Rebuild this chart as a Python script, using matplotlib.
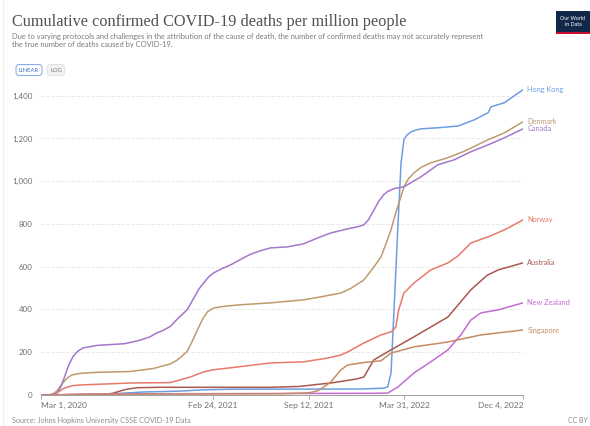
import pandas as pd
import matplotlib.pyplot as plt
from matplotlib.patches import Rectangle
from matplotlib.ticker import FuncFormatter

# Data (deaths per million)
hk_dates = ['2020-03-01', '2020-07-01', '2020-08-15', '2020-10-01', '2020-12-15', '2021-02-01',
            '2021-04-01', '2021-12-31', '2022-02-15', '2022-02-24', '2022-03-03', '2022-03-09',
            '2022-03-17', '2022-03-24', '2022-03-30', '2022-04-05', '2022-04-14', '2022-04-25',
            '2022-05-05', '2022-06-09', '2022-07-21', '2022-08-24', '2022-09-22', '2022-09-28',
            '2022-10-26', '2022-12-04']
hk_vals = [0, 1, 8, 14, 18, 24, 27, 28, 32, 37, 103, 384, 772, 1086, 1194, 1215, 1231, 1240,
           1245, 1250, 1258, 1287, 1320, 1348, 1367, 1428]

dk_dates = ['2020-03-01', '2020-03-20', '2020-03-28', '2020-04-04', '2020-04-15', '2020-04-25',
            '2020-05-05', '2020-05-25', '2020-06-26', '2020-09-04', '2020-10-22', '2020-11-26',
            '2020-12-10', '2020-12-20', '2021-01-01', '2021-01-12', '2021-01-22', '2021-02-02',
            '2021-02-12', '2021-02-25', '2021-03-20', '2021-04-16', '2021-06-24', '2021-09-01',
            '2021-10-07', '2021-11-18', '2021-12-10', '2022-01-05', '2022-01-25', '2022-02-10',
            '2022-02-20', '2022-03-03', '2022-03-10', '2022-03-17', '2022-03-24', '2022-03-30',
            '2022-04-08', '2022-04-20', '2022-05-05', '2022-05-25', '2022-06-30', '2022-08-03',
            '2022-09-22', '2022-10-26', '2022-12-04']
dk_vals = [0, 0, 8, 20, 55, 80, 94, 102, 106, 110, 124, 145, 162, 180, 205, 255, 304, 355, 389,
           407, 415, 421, 431, 445, 459, 477, 500, 538, 595, 646, 705, 772, 830, 880, 930, 974,
           1010, 1039, 1065, 1086, 1110, 1140, 1194, 1226, 1278]

ca_dates = ['2020-03-01', '2020-03-25', '2020-04-03', '2020-04-12', '2020-04-20', '2020-04-28',
            '2020-05-07', '2020-05-17', '2020-05-28', '2020-06-26', '2020-08-23', '2020-09-22',
            '2020-10-15', '2020-10-29', '2020-11-12', '2020-11-26', '2020-12-11', '2020-12-22',
            '2021-01-01', '2021-01-15', '2021-01-25', '2021-02-04', '2021-02-15', '2021-02-25',
            '2021-03-15', '2021-04-01', '2021-04-28', '2021-05-15', '2021-06-03', '2021-06-24',
            '2021-07-30', '2021-09-01', '2021-10-01', '2021-10-28', '2021-12-02', '2021-12-25',
            '2022-01-05', '2022-01-15', '2022-01-25', '2022-02-05', '2022-02-15', '2022-02-24',
            '2022-03-09', '2022-03-30', '2022-05-05', '2022-06-09', '2022-07-13', '2022-08-17',
            '2022-09-22', '2022-10-26', '2022-12-04']
ca_vals = [0, 2, 8, 40, 90, 140, 180, 205, 220, 232, 240, 255, 272, 290, 303, 320, 355, 378,
           400, 455, 495, 524, 553, 571, 592, 608, 641, 660, 675, 688, 693, 707, 735, 758, 777,
           788, 796, 820, 860, 905, 935, 952, 965, 974, 1021, 1077, 1100, 1138, 1170, 1203, 1245]

no_dates = ['2020-03-01', '2020-03-30', '2020-04-04', '2020-04-15', '2020-04-25', '2020-05-08',
            '2020-05-22', '2020-09-04', '2020-11-26', '2020-12-16', '2021-01-07', '2021-02-04',
            '2021-02-24', '2021-04-16', '2021-06-24', '2021-09-01', '2021-10-22', '2021-11-18',
            '2021-12-02', '2022-01-05', '2022-02-10', '2022-03-03', '2022-03-13', '2022-03-19',
            '2022-03-30', '2022-04-20', '2022-05-25', '2022-06-30', '2022-07-21', '2022-08-17',
            '2022-09-22', '2022-10-26', '2022-12-04']
no_vals = [0, 0, 10, 28, 37, 44, 47, 56, 58, 70, 84, 108, 118, 131, 150, 155, 173, 187, 201,
           243, 281, 295, 318, 398, 477, 524, 585, 618, 650, 711, 740, 772, 819]

au_dates = ['2020-03-01', '2020-07-04', '2020-07-29', '2020-08-23', '2020-09-17', '2020-11-06',
            '2021-06-24', '2021-08-23', '2021-10-02', '2021-10-28', '2021-12-21', '2022-01-05',
            '2022-01-26', '2022-03-03', '2022-04-20', '2022-06-30', '2022-08-17', '2022-09-20',
            '2022-10-13', '2022-12-04']
au_vals = [0, 1, 8, 25, 34, 36, 36, 40, 50, 56, 75, 84, 164, 211, 272, 365, 492, 560, 585, 618]

nz_dates = ['2020-03-01', '2020-03-30', '2020-04-30', '2020-06-09', '2022-01-26', '2022-02-24',
            '2022-03-17', '2022-04-20', '2022-05-25', '2022-06-30', '2022-07-27', '2022-08-17',
            '2022-09-07', '2022-10-13', '2022-12-04']
nz_vals = [0, 0, 3, 5, 8, 9, 37, 103, 155, 211, 281, 351, 384, 398, 431]

sg_dates = ['2020-03-01', '2020-03-30', '2020-04-30', '2020-06-29', '2021-07-14', '2021-09-12',
            '2021-10-01', '2021-10-12', '2021-10-28', '2021-11-18', '2021-12-02', '2022-01-05',
            '2022-02-10', '2022-03-03', '2022-04-20', '2022-06-30', '2022-09-07', '2022-12-04']
sg_vals = [0, 0, 2, 4, 6, 10, 20, 35, 61, 117, 140, 152, 160, 196, 225, 248, 281, 304]

countries = ['Hong Kong', 'Denmark', 'Canada', 'Norway', 'Australia', 'New Zealand', 'Singapore']
colors = ['#6f9de3', '#bf9a6e', '#a277cc', '#e8796a', '#a9584f', '#c46bd3', '#c68b63']
series = [(hk_dates, hk_vals), (dk_dates, dk_vals), (ca_dates, ca_vals), (no_dates, no_vals),
          (au_dates, au_vals), (nz_dates, nz_vals), (sg_dates, sg_vals)]

y_ticks = [0, 200, 400, 600, 800, 1000, 1200, 1400]
x_ticks = ['2020-03-01', '2021-02-24', '2021-09-12', '2022-03-31', '2022-12-04']
x_labels = ['Mar 1, 2020', 'Feb 24, 2021', 'Sep 12, 2021', 'Mar 31, 2022', 'Dec 4, 2022']

plt.rcParams['font.family'] = ['Lato', 'DejaVu Sans']

fig = plt.figure(figsize=(5.9, 4.26), dpi=100)
ax = fig.add_axes([41 / 590, 31 / 426, 482 / 590, 310 / 426])

# Lines
for name, col, (d, v) in zip(countries, colors, series):
    ax.plot(pd.to_datetime(d), v, color=col, lw=1.1, solid_capstyle='round',
            solid_joinstyle='round')
    ax.text(pd.Timestamp(d[-1]) + pd.Timedelta(days=9), v[-1], name, color=col,
            fontsize=5.3, va='center', ha='left', clip_on=False)

ax.set_xlim(pd.Timestamp('2020-03-01'), pd.Timestamp('2022-12-04'))
ax.set_ylim(0, 1450)
ax.set_yticks(y_ticks)
ax.yaxis.set_major_formatter(FuncFormatter(lambda v, p: f'{int(v):,}'))
ax.set_xticks(pd.to_datetime(x_ticks))
ax.set_xticklabels(x_labels)
xl = ax.get_xticklabels()
xl[0].set_ha('left')
xl[-1].set_ha('right')

ax.grid(axis='y', color='#e4e4e4', lw=0.6, ls=(0, (4, 2)))
ax.set_axisbelow(True)
for s in ['top', 'right', 'left']:
    ax.spines[s].set_visible(False)
ax.spines['bottom'].set_color('#a0a0a0')
ax.spines['bottom'].set_linewidth(0.7)
ax.tick_params(axis='y', length=0, labelsize=5.8, labelcolor='#707070', pad=6)
ax.tick_params(axis='x', length=3, width=0.6, color='#a0a0a0', labelsize=6.1,
               labelcolor='#707070', pad=2)

# Header
fig.text(12 / 590, 1 - 26 / 426, 'Cumulative confirmed COVID-19 deaths per million people',
         family='Liberation Serif', fontsize=11.7, color='#505050', va='baseline')
fig.text(12 / 590, 1 - 39 / 426,
         'Due to varying protocols and challenges in the attribution of the cause of death, '
         'the number of confirmed deaths may not accurately represent',
         fontsize=5.4, color='#7a7a7a', va='baseline')
fig.text(12 / 590, 1 - 47.5 / 426, 'the true number of deaths caused by COVID-19.',
         fontsize=5.4, color='#7a7a7a', va='baseline')

# LINEAR / LOG toggle
fig.text(29 / 590, 1 - 70 / 426, 'LINEAR', fontsize=4.2, color='#3a6fc8', ha='center', va='center',
         bbox=dict(boxstyle='round,pad=0.5,rounding_size=0.5', fc='white', ec='#7ea4e6', lw=0.7))
fig.text(56 / 590, 1 - 70 / 426, 'LOG', fontsize=4.2, color='#777777', ha='center', va='center',
         bbox=dict(boxstyle='round,pad=0.5,rounding_size=0.5', fc='#f2f2f2', ec='#dddddd', lw=0.6))

# Logo
fig.patches.append(Rectangle((556 / 590, 1 - 32 / 426), 36 / 590, 21 / 426,
                             transform=fig.transFigure, fc='#12284a', ec='none'))
fig.patches.append(Rectangle((556 / 590, 1 - 33.5 / 426), 36 / 590, 1.6 / 426,
                             transform=fig.transFigure, fc='#c8102e', ec='none'))
fig.text(573 / 590, 1 - 21.5 / 426, 'Our World\nin Data', fontsize=3.8, color='white',
         ha='center', va='center', linespacing=1.0)

# Footer
fig.text(12 / 590, 1 - 423 / 426, 'Source: Johns Hopkins University CSSE COVID-19 Data',
         fontsize=5.2, color='#8a8a8a', va='baseline')
fig.text(588 / 590, 1 - 423 / 426, 'CC BY', fontsize=5.0, color='#8a8a8a', va='baseline',
         ha='right')

fig.add_artist(plt.Line2D([3 / 590, 3 / 590], [0, 1], color='#eeeeee', lw=0.8))

fig.savefig('out.png', dpi=100)
